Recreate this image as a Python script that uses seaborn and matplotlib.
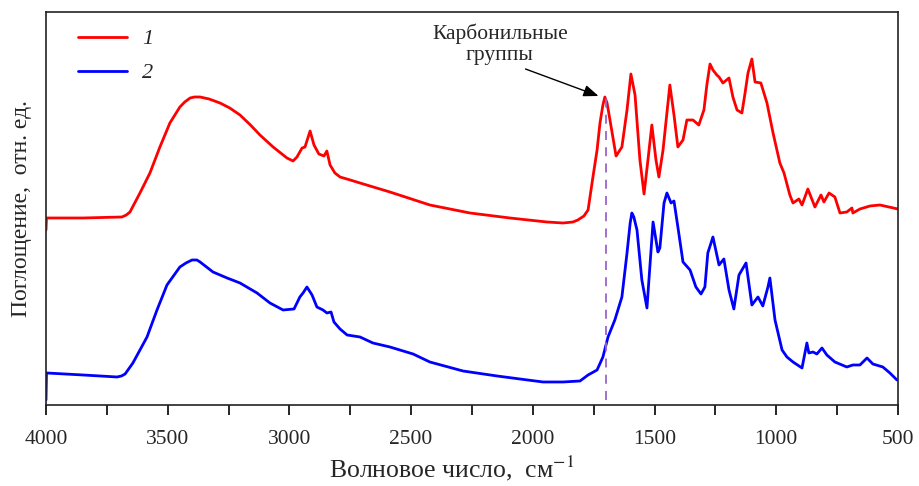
import numpy as np
import pandas as pd
import matplotlib
matplotlib.use("Agg")
import matplotlib.pyplot as plt
import seaborn as sns
from matplotlib.ticker import MultipleLocator, NullLocator

# ---- data (wavenumber, cm^-1 ; absorbance, rel. units) ----
wn_1 = [4000, 3998, 3848, 3688, 3670, 3655, 3614, 3573, 3532, 3491, 3450, 3430, 3408, 3390,
        3367, 3330, 3285, 3245, 3203, 3160, 3121, 3067, 3010, 2985, 2969, 2948, 2936, 2915,
        2899, 2879, 2858, 2846, 2833, 2813, 2792, 2750, 2710, 2587, 2423, 2258, 2094, 1942,
        1876, 1835, 1815, 1790, 1773, 1753, 1736, 1724, 1712, 1704, 1695, 1683, 1658, 1634,
        1613, 1597, 1580, 1560, 1543, 1527, 1511, 1494, 1482, 1465, 1437, 1420, 1404, 1383,
        1367, 1342, 1318, 1297, 1285, 1272, 1260, 1244, 1235, 1219, 1194, 1178, 1161, 1141,
        1128, 1116, 1100, 1087, 1063, 1038, 1013, 985, 968, 944, 931, 907, 894, 870, 841,
        816, 804, 783, 759, 738, 710, 689, 685, 656, 615, 574, 500]
ab_1 = [1.75, 1.87, 1.87, 1.88, 1.90, 1.93, 2.12, 2.32, 2.58, 2.82, 2.98, 3.03, 3.07, 3.08,
        3.08, 3.06, 3.02, 2.97, 2.90, 2.80, 2.70, 2.58, 2.47, 2.44, 2.48, 2.57, 2.58, 2.74,
        2.60, 2.51, 2.49, 2.54, 2.40, 2.32, 2.28, 2.25, 2.22, 2.13, 2.00, 1.92, 1.87, 1.83,
        1.82, 1.83, 1.85, 1.89, 1.95, 2.28, 2.55, 2.82, 3.00, 3.08, 3.02, 2.85, 2.49, 2.58,
        2.95, 3.31, 3.10, 2.45, 2.11, 2.45, 2.80, 2.45, 2.28, 2.55, 3.20, 2.90, 2.58, 2.65,
        2.85, 2.85, 2.80, 2.95, 3.20, 3.41, 3.35, 3.30, 3.28, 3.22, 3.27, 3.08, 2.95, 2.92,
        3.12, 3.32, 3.46, 3.23, 3.22, 3.02, 2.72, 2.42, 2.32, 2.10, 2.02, 2.06, 2.00, 2.16,
        1.98, 2.10, 2.03, 2.12, 2.08, 1.92, 1.93, 1.97, 1.92, 1.96, 1.99, 2.00, 1.96]

wn_2 = [4000, 3998, 3848, 3708, 3690, 3675, 3643, 3585, 3544, 3503, 3450, 3425, 3400, 3380,
        3367, 3314, 3256, 3203, 3133, 3080, 3026, 2981, 2957, 2944, 2928, 2907, 2887, 2862,
        2846, 2829, 2817, 2792, 2763, 2710, 2657, 2587, 2492, 2423, 2287, 2147, 2053, 1958,
        1876, 1806, 1773, 1736, 1712, 1691, 1663, 1634, 1613, 1600, 1593, 1585, 1572, 1552,
        1531, 1523, 1506, 1486, 1478, 1461, 1449, 1432, 1420, 1404, 1383, 1354, 1330, 1309,
        1293, 1281, 1260, 1235, 1215, 1194, 1174, 1153, 1124, 1100, 1075, 1055, 1034, 1026,
        1005, 976, 956, 931, 894, 874, 866, 849, 833, 812, 792, 759, 710, 685, 656, 627,
        603, 562, 533, 504]
ab_2 = [0.05, 0.32, 0.30, 0.28, 0.29, 0.31, 0.42, 0.68, 0.95, 1.20, 1.38, 1.42, 1.45, 1.45,
        1.43, 1.33, 1.27, 1.22, 1.12, 1.02, 0.95, 0.96, 1.08, 1.12, 1.18, 1.10, 0.98, 0.95,
        0.92, 0.93, 0.83, 0.76, 0.70, 0.68, 0.62, 0.58, 0.51, 0.43, 0.34, 0.29, 0.26, 0.23,
        0.23, 0.24, 0.30, 0.35, 0.48, 0.68, 0.85, 1.08, 1.52, 1.82, 1.92, 1.88, 1.75, 1.25,
        0.97, 1.25, 1.83, 1.53, 1.57, 2.02, 2.12, 2.02, 2.04, 1.78, 1.43, 1.35, 1.18, 1.11,
        1.18, 1.52, 1.68, 1.40, 1.46, 1.15, 0.96, 1.30, 1.42, 1.00, 1.08, 0.99, 1.18, 1.27,
        0.85, 0.55, 0.48, 0.43, 0.37, 0.62, 0.52, 0.53, 0.51, 0.57, 0.50, 0.43, 0.38, 0.40,
        0.40, 0.47, 0.41, 0.38, 0.32, 0.25]

series_labels = ["1", "2"]
series_colors = ["#ff0000", "#0000ff"]
carbonyl_wn = 1700
carbonyl_peak = 3.08
annotation_text = "Карбонильные\nгруппы"
x_label = "Волновое число,  см$^{-1}$"
y_label = "Поглощение,  отн. ед."
x_ticks = [4000, 3500, 3000, 2500, 2000, 1500, 1000, 500]

df = pd.concat([
    pd.DataFrame({"wn": wn_1, "ab": ab_1, "s": series_labels[0]}),
    pd.DataFrame({"wn": wn_2, "ab": ab_2, "s": series_labels[1]}),
], ignore_index=True)

sns.set_style("white")
plt.rcParams["font.family"] = ["Liberation Serif", "DejaVu Serif"]
plt.rcParams["mathtext.fontset"] = "stix"

fig = plt.figure(figsize=(9.2, 4.86), dpi=100)
ax = fig.add_axes([0.05, 0.1667, 0.926, 0.8086])

sns.lineplot(data=df, x="wn", y="ab", hue="s", palette=dict(zip(series_labels, series_colors)),
             estimator=None, sort=False, linewidth=2.0, ax=ax)

ax.plot([carbonyl_wn, carbonyl_wn], [0.05, carbonyl_peak], color="#9966cc",
        lw=1.3, dashes=(5, 4))

ax.text(2135, 3.61, annotation_text, ha="center", va="center", fontsize=15.5,
        linespacing=1.15)
ax.annotate("", xy=(1730, 3.09), xytext=(2030, 3.36),
            arrowprops=dict(arrowstyle="-|>,head_length=0.9,head_width=0.35",
                            color="black", lw=1.0, shrinkA=0, shrinkB=0))

ax.set_xlim(4000, 500)
ax.set_ylim(0, 3.93)
ax.set_xticks(x_ticks)
ax.xaxis.set_minor_locator(MultipleLocator(250))
ax.yaxis.set_major_locator(NullLocator())
ax.tick_params(axis="x", which="both", direction="out", length=7, width=1.2,
               bottom=True, labelsize=15.5, pad=11, color="black")
ax.set_xlabel(x_label, fontsize=18.5, labelpad=2)
ax.xaxis.set_label_coords(0.476, -0.125)
ax.set_ylabel(y_label, fontsize=17, labelpad=10)
for sp in ax.spines.values():
    sp.set_color("#222222")
    sp.set_linewidth(1.2)

leg = ax.legend(loc="upper left", bbox_to_anchor=(0.014, 1.008), frameon=False,
                handlelength=2.2, labelspacing=0.6, handletextpad=0.7,
                prop=dict(family="Liberation Serif", style="italic", size=16))
for l in leg.get_lines():
    l.set_linewidth(2.0)

fig.savefig("out.png", dpi=100)
